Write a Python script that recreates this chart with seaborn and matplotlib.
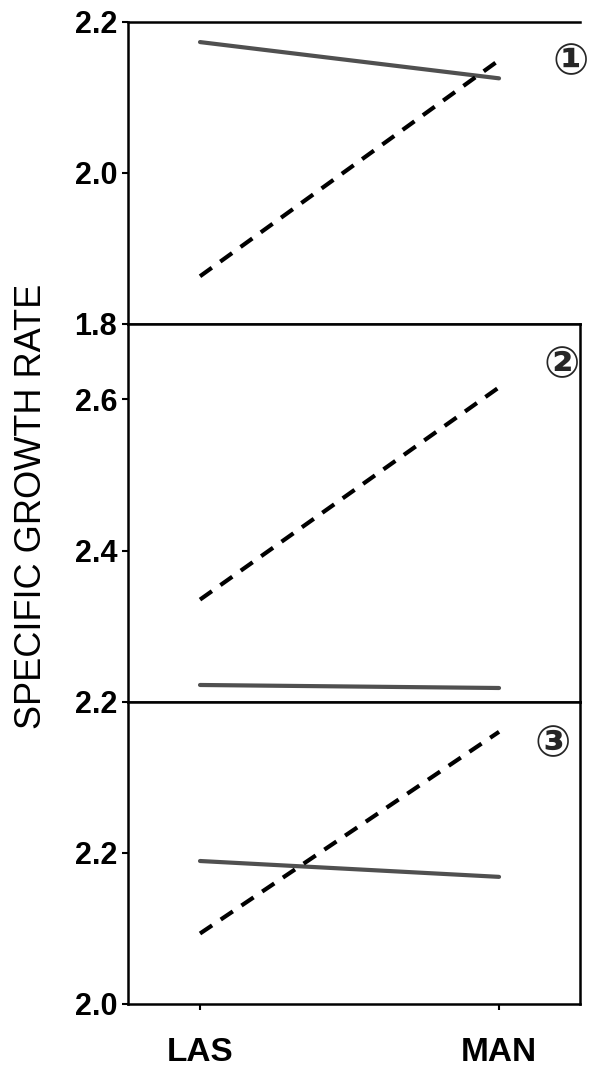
import numpy as np
import pandas as pd
import matplotlib
matplotlib.use("Agg")
import matplotlib.pyplot as plt
import seaborn as sns

# =========================
# Data
# =========================
sites = ["LAS", "MAN"]
site_pos = [0, 1]

solid_1 = [2.173, 2.125]
dashed_1 = [1.863, 2.149]
solid_2 = [2.222, 2.218]
dashed_2 = [2.335, 2.616]
solid_3 = [2.189, 2.168]
dashed_3 = [2.093, 2.360]

panel_names = ["①", "②", "③"]
panel_ylims = [(1.8, 2.2), (2.2, 2.7), (2.0, 2.4)]
panel_yticks = [[1.8, 2.0, 2.2], [2.2, 2.4, 2.6], [2.0, 2.2]]

# =========================
# Figure
# =========================
sns.set_style("ticks")
plt.rcParams['font.family'] = ['Liberation Sans', 'DejaVu Sans', 'Noto Sans CJK JP']

fig = plt.figure(figsize=(5.91, 10.84), dpi=100)
gs = fig.add_gridspec(3, 1, height_ratios=[4, 5, 4], hspace=0,
                      left=0.217, right=0.981, top=0.980, bottom=0.074)
axes = [fig.add_subplot(gs[i]) for i in range(3)]

series = [(solid_1, dashed_1), (solid_2, dashed_2), (solid_3, dashed_3)]
label_pos = [(0.98, 0.867), (0.96, 0.892), (0.94, 0.859)]

for i, ax in enumerate(axes):
    solid, dashed = series[i]
    df = pd.DataFrame({
        "site": site_pos * 2,
        "rate": solid + dashed,
        "kind": ["solid"] * 2 + ["dashed"] * 2,
    })
    sns.lineplot(data=df[df.kind == "solid"], x="site", y="rate", ax=ax,
                 color="#505050", linewidth=3, legend=False)
    sns.lineplot(data=df[df.kind == "dashed"], x="site", y="rate", ax=ax,
                 color="black", linewidth=3, linestyle=(0, (3.5, 2.5)), legend=False)

    ax.set_xlim(-0.24, 1.27)
    ax.set_ylim(*panel_ylims[i])
    ax.set_yticks(panel_yticks[i])
    ax.set_yticklabels([f"{t:.1f}" for t in panel_yticks[i]],
                       fontsize=22, fontweight="bold", color="black")
    ax.set_xlabel("")
    ax.set_ylabel("")
    for s in ax.spines.values():
        s.set_linewidth(1.8)
        s.set_color("black")
    ax.tick_params(axis="y", length=4, width=1.5, pad=4, color="black")
    lx, ly = label_pos[i]
    ax.text(lx, ly, panel_names[i], transform=ax.transAxes,
            ha="center", va="center", fontsize=31, fontweight="bold",
            family=['DejaVu Sans', 'Noto Sans CJK JP'], clip_on=False)
    if i < 2:
        ax.set_xticks([])

axes[0].spines["right"].set_visible(False)

axes[2].set_xticks(site_pos)
axes[2].set_xticklabels(sites, fontsize=24, fontweight="bold", color="black")
axes[2].tick_params(axis="x", length=4, width=1.5, pad=20, color="black")

fig.text(0.053, 0.533, "SPECIFIC GROWTH RATE", rotation=90,
         ha="center", va="center", fontsize=26, color="black")

fig.savefig("out.png", dpi=100, facecolor="white")
